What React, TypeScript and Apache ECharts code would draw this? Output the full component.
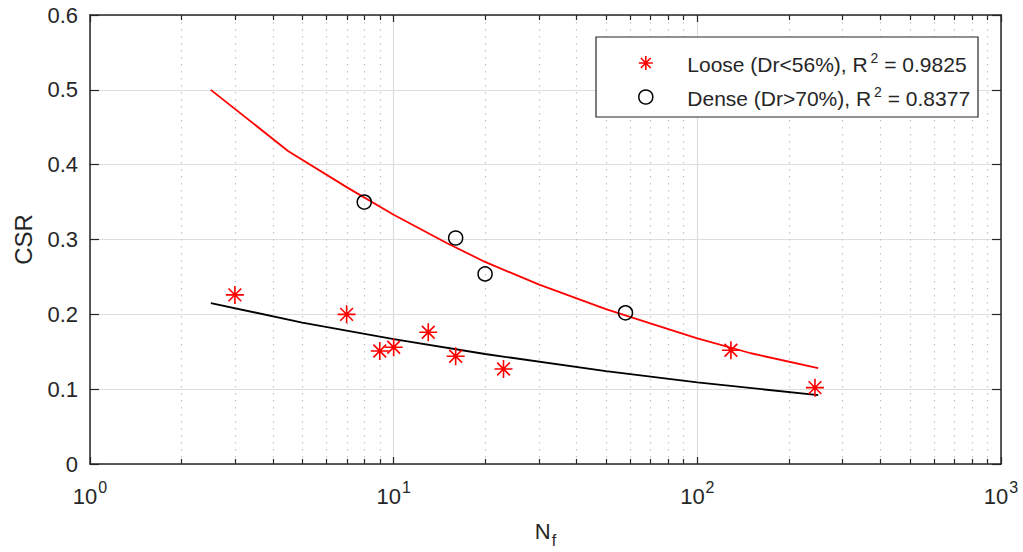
import React, { useEffect, useRef } from 'react';
import * as echarts from 'echarts';

// ---- data ----
const xExponents = ['0', '1', '2', '3'];
const minorTickValues = [2, 3, 4, 5, 6, 7, 8, 9, 20, 30, 40, 50, 60, 70, 80, 90, 200, 300, 400, 500, 600, 700, 800, 900];
const yTickLabels = ['0', '0.1', '0.2', '0.3', '0.4', '0.5', '0.6'];

const looseN = [3, 7, 9, 10, 13, 16, 23, 129, 244];
const looseCSR = [0.226, 0.2, 0.151, 0.156, 0.176, 0.144, 0.127, 0.152, 0.102];

const denseN = [8, 16, 20, 58];
const denseCSR = [0.35, 0.302, 0.254, 0.202];

const redFitN = [2.5, 4.5, 7, 10, 15, 20, 30, 50, 70, 100, 150, 250];
const redFitCSR = [0.5, 0.418, 0.37, 0.333, 0.295, 0.27, 0.24, 0.207, 0.188, 0.168, 0.148, 0.128];

const blackFitN = [2.5, 5, 10, 20, 50, 100, 250];
const blackFitCSR = [0.215, 0.189, 0.167, 0.147, 0.124, 0.109, 0.092];

const legendLoose = 'Loose (Dr<56%)';
const legendDense = 'Dense (Dr>70%)';
const r2Loose = '0.9825';
const r2Dense = '0.8377';

const FONT = '"Liberation Sans", Arial, Helvetica, sans-serif';
const AXIS = '#262626';
const ASTERISK = 'path://M7,0L7,14M0,7L14,7M2.05,2.05L11.95,11.95M2.05,11.95L11.95,2.05';

const zip = (a: number[], b: number[]) => a.map((v, i) => [v, b[i]]);

export default function App() {
  const ref = useRef<HTMLDivElement>(null);
  useEffect(() => {
    if (!ref.current) return;
    const chart = echarts.init(ref.current, undefined, { renderer: 'svg' });
    const tickLabelStyle = { fontSize: 22, color: AXIS, fontFamily: FONT };
    const option: any = {
      animation: false,
      backgroundColor: '#ffffff',
      grid: { left: 90, top: 15, right: 22, bottom: 88, containLabel: false, outerBoundsMode: 'none' },
      xAxis: [
        {
          type: 'log', logBase: 10, min: 1, max: 1000, position: 'bottom',
          axisLine: { show: true, onZero: false, lineStyle: { color: AXIS, width: 1.5 } },
          axisTick: { show: true, inside: true, length: 7, lineStyle: { color: AXIS, width: 1.2 } },
          axisLabel: {
            margin: 15,
            formatter: (_v: number, i: number) => '{b|10}{s|' + xExponents[i] + '}',
            rich: {
              b: { ...tickLabelStyle, lineHeight: 28, verticalAlign: 'bottom' },
              s: { fontSize: 16, color: AXIS, fontFamily: FONT, lineHeight: 28, verticalAlign: 'top', padding: [0, 0, 0, 1] },
            },
          },
          splitLine: { show: true, lineStyle: { color: '#dedede', width: 1.2 } },
          name: 'N{s|f}', nameLocation: 'middle', nameGap: 50,
          nameTextStyle: {
            fontSize: 22, color: AXIS, fontFamily: FONT,
            rich: { s: { fontSize: 16, color: AXIS, fontFamily: FONT, padding: [18, 0, 0, 1] } },
          },
        },
        {
          type: 'log', logBase: 10, min: 1, max: 1000, position: 'top',
          axisLine: { show: true, onZero: false, lineStyle: { color: AXIS, width: 1.5 } },
          axisTick: { show: true, inside: true, length: 7, lineStyle: { color: AXIS, width: 1.2 } },
          axisLabel: { show: false },
          splitLine: { show: false },
        },
      ],
      yAxis: [
        {
          type: 'value', min: 0, max: 0.6, interval: 0.1, position: 'left',
          axisLine: { show: true, onZero: false, lineStyle: { color: AXIS, width: 1.5 } },
          axisTick: { show: true, inside: true, length: 9, lineStyle: { color: AXIS, width: 1.2 } },
          axisLabel: { ...tickLabelStyle, margin: 12, formatter: (_v: number, i: number) => yTickLabels[i] },
          splitLine: { show: true, lineStyle: { color: '#dedede', width: 1.2 } },
          name: 'CSR', nameLocation: 'middle', nameGap: 55, nameRotate: 90,
          nameTextStyle: { fontSize: 24, color: AXIS, fontFamily: FONT },
        },
        {
          type: 'value', min: 0, max: 0.6, interval: 0.1, position: 'right',
          axisLine: { show: true, onZero: false, lineStyle: { color: AXIS, width: 1.5 } },
          axisTick: { show: true, inside: true, length: 9, lineStyle: { color: AXIS, width: 1.2 } },
          axisLabel: { show: false },
          splitLine: { show: false },
        },
      ],
      legend: {
        orient: 'vertical', left: 638, top: 51, padding: 0,
        itemWidth: 15, itemHeight: 14, itemGap: 10,
        z: 101,
        data: [
          { name: legendLoose, icon: ASTERISK, itemStyle: { color: '#ff0000', borderColor: '#ff0000', borderWidth: 1.6 } },
          { name: legendDense, icon: 'circle', itemStyle: { color: '#ffffff', borderColor: '#000000', borderWidth: 1.5 } },
        ],
        formatter: (name: string) =>
          name === legendLoose
            ? '{f|' + legendLoose + ', R}{s|2}{t| = ' + r2Loose + '}'
            : '{f|' + legendDense + ', R}{s|2}{t| = ' + r2Dense + '}',
        textStyle: {
          fontSize: 21, color: '#262626', fontFamily: FONT,
          rich: {
            f: { fontSize: 21, color: '#262626', fontFamily: FONT, lineHeight: 24, verticalAlign: 'bottom', padding: [0, 0, 0, 29] },
            t: { fontSize: 21, color: '#262626', fontFamily: FONT, lineHeight: 24, verticalAlign: 'bottom' },
            s: { fontSize: 14, color: '#262626', fontFamily: FONT, lineHeight: 24, verticalAlign: 'top', padding: [0, 0, 0, 3] },
          },
        },
      },
      graphic: [
        {
          type: 'rect', z: 100, silent: true,
          shape: { x: 596, y: 37, width: 382, height: 80 },
          style: { fill: '#ffffff', stroke: AXIS, lineWidth: 1.2 },
        },
      ],
      series: [
        {
          type: 'custom', silent: true, z: 1,
          xAxisIndex: 0, yAxisIndex: 0,
          data: minorTickValues.map((v) => [v, 0]),
          renderItem: (params: any, api: any) => {
            const p = api.coord([api.value(0), 0]);
            const cs = params.coordSys;
            const x = Math.round(p[0]) + 0.5;
            return {
              type: 'group',
              children: [
                { type: 'line', shape: { x1: x, y1: cs.y, x2: x, y2: cs.y + cs.height }, style: { stroke: '#c4c4c4', lineWidth: 1.2, lineDash: [1.5, 5.5] } },
                { type: 'line', shape: { x1: x, y1: cs.y + cs.height, x2: x, y2: cs.y + cs.height - 5 }, style: { stroke: AXIS, lineWidth: 1.2 } },
                { type: 'line', shape: { x1: x, y1: cs.y, x2: x, y2: cs.y + 5 }, style: { stroke: AXIS, lineWidth: 1.2 } },
              ],
            };
          },
        },
        {
          name: 'fitRed', type: 'line', data: zip(redFitN, redFitCSR), showSymbol: false, z: 3,
          lineStyle: { color: '#ff0000', width: 1.8 }, itemStyle: { color: '#ff0000' },
        },
        {
          name: 'fitBlack', type: 'line', data: zip(blackFitN, blackFitCSR), showSymbol: false, z: 3,
          lineStyle: { color: '#000000', width: 1.8 }, itemStyle: { color: '#000000' },
        },
        {
          name: legendLoose, type: 'scatter', data: zip(looseN, looseCSR), z: 4,
          symbol: ASTERISK, symbolSize: 18,
          itemStyle: { color: '#ff0000', borderColor: '#ff0000', borderWidth: 1.6, opacity: 1 },
        },
        {
          name: legendDense, type: 'scatter', data: zip(denseN, denseCSR), z: 4,
          symbol: 'circle', symbolSize: 14,
          itemStyle: { color: 'rgba(255,255,255,0)', borderColor: '#000000', borderWidth: 1.5, opacity: 1 },
        },
      ],
    };
    chart.setOption(option);
    return () => chart.dispose();
  }, []);
  return <div ref={ref} style={{ position: 'fixed', left: 0, top: 0, width: 1023, height: 552 }} />;
}
